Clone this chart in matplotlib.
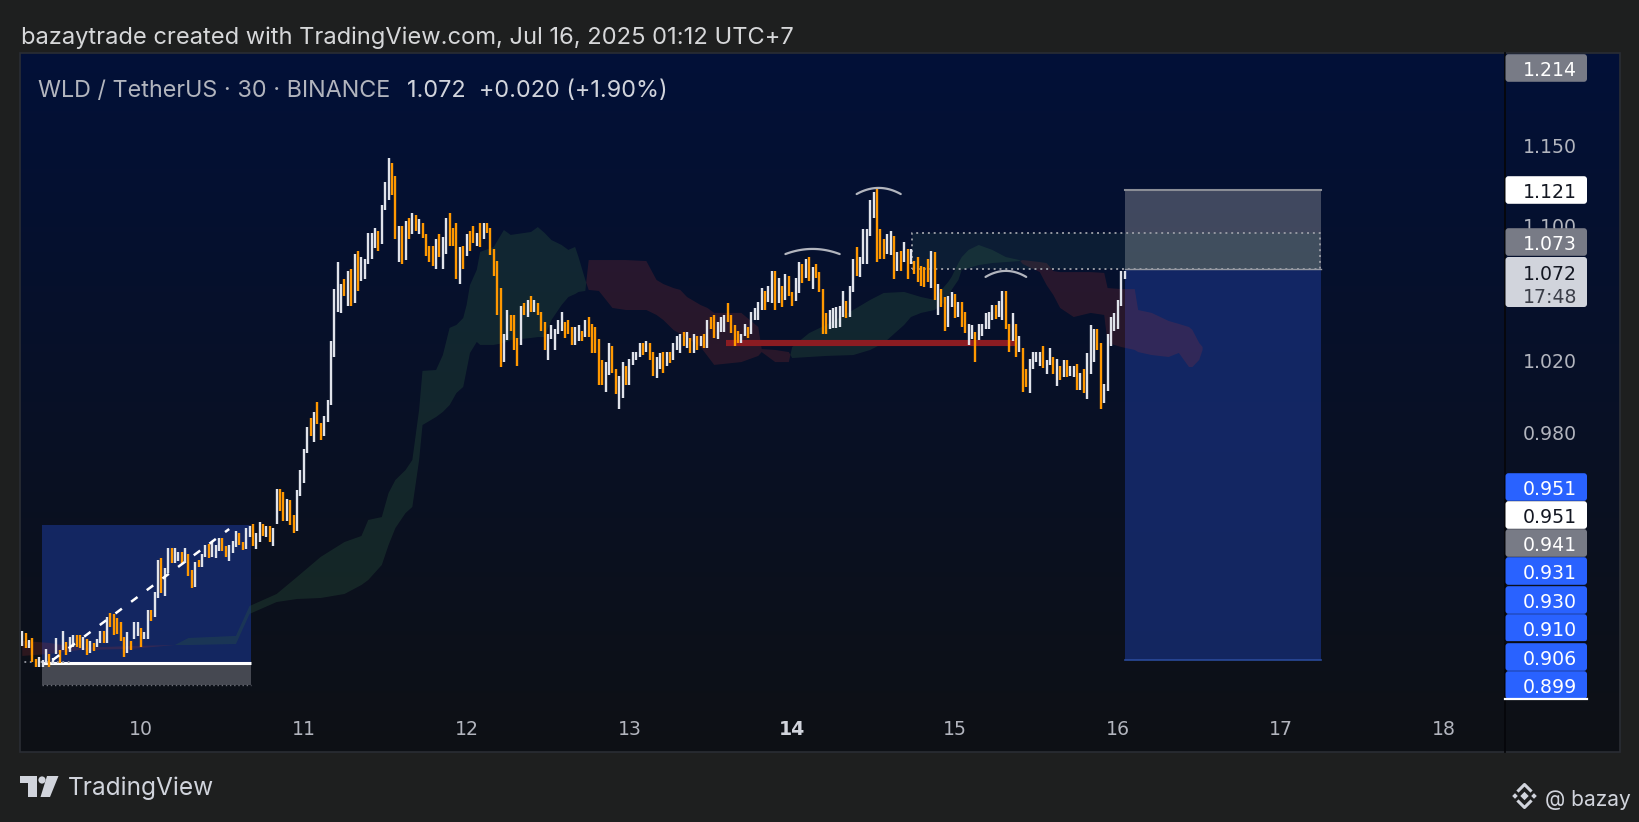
import numpy as np
import pandas as pd
import matplotlib
matplotlib.use("Agg")
import matplotlib.pyplot as plt
import matplotlib.dates as mdates
from matplotlib.patches import Rectangle, FancyBboxPatch, Polygon

# ---------------- data ----------------
header_text = "bazaytrade created with TradingView.com, Jul 16, 2025 01:12 UTC+7"
symbol_text = "WLD / TetherUS · 30 · BINANCE"
quote_text = "1.072  +0.020 (+1.90%)"
last_bar_time = "2025-07-16 01:00"

bar_open = [
    .870, .876, .869, .874, .8635, .860, .860, .8615, .866, .861,
    .866, .868, .868, .872, .867, .8696, .8753, .8753, .8680, .8735,
    .8664, .8712, .8696, .8712, .8772, .8714, .8859, .8854, .8836, .8816,
    .8741, .8664, .8725, .8733, .8749, .8789, .8733, .8733, .8876, .8843,
    .8934, .9138, .8945, .9059, .9186, .9112, .9120, .9169, .9110, .9155,
    .9076, .8990, .9127, .9093, .9143, .9208, .9140, .9138, .9170, .9237,
    .9200, .9120, .9163, .9193, .9263, .9220, .9184, .9245, .9311, .9184,
    .9220, .9311, .9245, .9300, .9200, .9309,
    .9493, .9479, .9325, .9435, .9356, .9275, .9456, .9527, .9687, .9878,
    .9747, .9967, .9851, .9778, .9856, .9949, 1.0220, 1.0480, 1.0474, 1.0673,
    1.0515, 1.0732, 1.0533, 1.0840, 1.0662, 1.0672, 1.0762, 1.0792, 1.0861, 1.0964,
    1.0883, 1.1090, 1.1153, 1.1388, 1.1305, 1.0777, 1.0995, 1.0787, 1.1039, 1.0944,
    1.1060, 1.0944, 1.1009, 1.0944, 1.0871, 1.0871, 1.0732, 1.0944, 1.0732, 1.0822,
    1.1074, 1.0982, 1.1013, 1.0643, 1.0871, 1.0812, 1.0962, 1.0993, 1.0873, 1.1013,
    1.0913, 1.1013, 1.0978, 1.0852, 1.0780, 1.0621, 1.0191, 1.0315, 1.0460, 1.0460,
    1.0325, 1.0287, 1.0533, 1.0451, 1.0572, 1.0480, 1.0533,
    1.0476, 1.0422, 1.0202, 1.0320, 1.0259, 1.0351, 1.0368, 1.0422, 1.0432, 1.0393,
    1.0287, 1.0313, 1.0368, 1.0336, 1.0451, 1.0409, 1.0393, 1.0322, 1.0202, 1.0022,
    1.0117, 1.0283, 1.0150, 0.9927, 0.9986, 1.0170, 1.0061, 1.0173, 1.0202, 1.0221,
    1.0297, 1.0249, 1.0297, 1.0249, 1.0102, 1.0150, 1.0245, 1.0170, 1.0245, 1.0202,
    1.0259, 1.0240, 1.0365, 1.0268, 1.0330, 1.0243, 1.0341, 1.0283, 1.0351, 1.0272,
    1.0451, 1.0461, 1.0322, 1.0365, 1.0365, 1.0529, 1.0461, 1.0403, 1.0368, 1.0301,
    1.0339, 1.0393, 1.0351, 1.0432, 1.0432, 1.0490, 1.0601, 1.0535, 1.0529, 1.0721,
    1.0529,
    1.0632, 1.0550, 1.0691, 1.0593, 1.0540, 1.0589, 1.0763, 1.0678, 1.0803, 1.0614,
    1.0763, 1.0717, 1.0614, 1.0475, 1.0378, 1.0384, 1.0384, 1.0393, 1.0451, 1.0544,
    1.0451, 1.0593, 1.0863, 1.0682, 1.0761, 1.0763, 1.0934, 1.1040, 1.1221, 1.0975,
    1.0914, 1.0821, 1.0817, 1.0934, 1.0721, 1.0841, 1.0777, 1.0853, 1.0763, 1.0783,
    1.0807, 1.0751, 1.0747, 1.0793, 1.0618, 1.0833, 1.0461, 1.0614, 1.0569, 1.0393,
    1.0505, 1.0585, 1.0451, 1.0534, 1.0481, 1.0288, 1.0323, 1.0365, 1.0317, 1.0342,
    1.0382, 1.0382, 1.0432, 1.0520, 1.0451, 1.0432, 1.0603, 1.0409, 1.0313, 1.0409,
    1.0246, 1.0269, 1.0152, 1.0015, 1.0152, 1.0189, 1.0165, 1.0283, 1.0121, 1.0174,
    1.0217, 1.0056, 1.0168, 1.0105, 1.0202, 1.0112, 1.0105, 1.0180, 1.0030, 1.0152,
    0.9981, 1.0124, 1.0189, 1.0378, 1.0301, 0.9963, 1.0028, 1.0282, 1.0368, 1.0380,
    1.0514, 1.0672,
]
bar_close = [
    .877, .869, .873, .862, .860, .8645, .863, .8685, .860, .864,
    .874, .8615, .877, .8655, .8745, .8753, .8696, .8688, .8745, .8656,
    .8725, .8677, .8733, .8772, .8714, .8843, .8793, .8755, .8756, .8725,
    .8648, .8766, .8680, .8815, .8815, .8696, .8769, .8876, .8820, .8963,
    .9127, .8962, .9084, .9186, .9110, .9186, .9169, .9112, .9186, .9043,
    .8987, .9116, .9093, .9155, .9203, .9138, .9220, .9205, .9237, .9172,
    .9143, .9205, .9225, .9276, .9203, .9177, .9290, .9300, .9198, .9263,
    .9322, .9251, .9300, .9218, .9290, .9493,
    .9377, .9325, .9444, .9305, .9265, .9488, .9595, .9707, .9829, .9778,
    .9911, .9847, .9756, .9887, .9976, 1.0311, 1.0613, 1.0776, 1.0642, 1.0574,
    1.0720, 1.0515, 1.0822, 1.0603, 1.0806, 1.0792, 1.0952, 1.0952, 1.0978, 1.0840,
    1.1121, 1.1267, 1.1419, 1.1184, 1.0913, 1.0995, 1.0762, 1.1025, 1.0913, 1.1074,
    1.0964, 1.1035, 1.0921, 1.0812, 1.0777, 1.0752, 1.0913, 1.0806, 1.0923, 1.1039,
    1.0873, 1.0873, 1.0672, 1.0867, 1.0732, 1.0944, 1.0842, 1.0891, 1.0952, 1.0867,
    1.1013, 1.0952, 1.0816, 1.0692, 1.0460, 1.0163, 1.0350, 1.0490, 1.0369, 1.0258,
    1.0168, 1.0513, 1.0460, 1.0548, 1.0480, 1.0548, 1.0460,
    1.0370, 1.0259, 1.0351, 1.0403, 1.0380, 1.0432, 1.0476, 1.0330, 1.0351, 1.0287,
    1.0393, 1.0403, 1.0313, 1.0432, 1.0336, 1.0244, 1.0244, 1.0061, 1.0061, 1.0192,
    1.0297, 1.0130, 1.0010, 1.0113, 1.0192, 1.0061, 1.0207, 1.0249, 1.0249, 1.0297,
    1.0230, 1.0311, 1.0202, 1.0111, 1.0221, 1.0243, 1.0130, 1.0245, 1.0183, 1.0297,
    1.0339, 1.0351, 1.0283, 1.0361, 1.0243, 1.0351, 1.0259, 1.0341, 1.0272, 1.0432,
    1.0380, 1.0330, 1.0422, 1.0451, 1.0461, 1.0422, 1.0355, 1.0283, 1.0297, 1.0351,
    1.0409, 1.0330, 1.0480, 1.0500, 1.0539, 1.0617, 1.0490, 1.0631, 1.0721, 1.0490,
    1.0677,
    1.0507, 1.0703, 1.0573, 1.0514, 1.0678, 1.0773, 1.0648, 1.0793, 1.0658, 1.0743,
    1.0678, 1.0595, 1.0351, 1.0351, 1.0491, 1.0501, 1.0507, 1.0516, 1.0603, 1.0442,
    1.0632, 1.0793, 1.0691, 1.0803, 1.0975, 1.0975, 1.1153, 1.1201, 1.0777, 1.0791,
    1.0791, 1.0942, 1.0963, 1.0674, 1.0837, 1.0723, 1.0897, 1.0674, 1.0853, 1.0703,
    1.0652, 1.0632, 1.0624, 1.0654, 1.0843, 1.0550, 1.0644, 1.0507, 1.0370, 1.0573,
    1.0593, 1.0442, 1.0534, 1.0393, 1.0355, 1.0407, 1.0403, 1.0193, 1.0409, 1.0409,
    1.0471, 1.0477, 1.0520, 1.0436, 1.0544, 1.0603, 1.0380, 1.0250, 1.0471, 1.0221,
    1.0340, 1.0024, 1.0052, 1.0208, 1.0246, 1.0246, 1.0246, 1.0155, 1.0202, 1.0269,
    1.0121, 1.0208, 1.0090, 1.0202, 1.0105, 1.0168, 1.0168, 1.0030, 1.0131, 1.0015,
    1.0244, 1.0403, 1.0378, 1.0259, 0.9927, 1.0067, 1.0351, 1.0451, 1.0471, 1.0550,
    1.0723, 1.0720,
]

# Ichimoku cloud (bar offsets from the first bar, leading spans A and B)
cloud_bar = [0, 8, 17, 32, 45, 49, 63, 67, 75, 81, 88, 95, 100, 102, 106, 108, 110, 113, 115, 117,
             118, 122, 124, 126, 128, 130, 131, 132, 134, 135, 139, 142, 144, 150, 152, 154, 156, 159, 161, 163,
             164, 166, 167, 170, 174, 178, 184, 187, 189, 192, 194, 196, 200, 202, 204, 212, 217, 218, 222, 226,
             227, 232, 237, 245, 250, 254, 260, 262, 265, 269, 271, 273, 274, 276, 277, 279, 282, 286, 290, 294,
             295, 300, 302, 304, 306, 310, 315, 319, 320, 324, 328, 329, 333, 338, 341, 344, 345, 347, 348]
lead_a = [.8651, .8661, .8680, .8685, .8704, .8738, .8748, .8895, .8955, .9040,
          .9142, .9218, .9249, .9332, .9347, .9473, .9542, .9595, .9649, .9922,
          1.0140, 1.0145, 1.0230, 1.0386, 1.0403, 1.0443, 1.0519, 1.0637, 1.0727, 1.0835,
          1.0865, 1.0968, 1.0938, 1.0956, 1.0986, 1.0950, 1.0907, 1.0877, 1.0847, 1.0865,
          1.0804, 1.0667, 1.0608, 1.0602, 1.0502, 1.0490, 1.0490, 1.0461, 1.0432, 1.0374,
          1.0351, 1.0328, 1.0276, 1.0225, 1.0174, 1.0190, 1.0225, 1.0247, 1.0190, 1.0190,
          1.0276, 1.0356, 1.0403, 1.0490, 1.0549, 1.0590, 1.0596, 1.0584, 1.0566, 1.0549,
          1.0608, 1.0655, 1.0685, 1.0768, 1.0804, 1.0847, 1.0877, 1.0847, 1.0804, 1.0786,
          1.0762, 1.0714, 1.0637, 1.0578, 1.0502, 1.0449, 1.0473, 1.0461, 1.0299, 1.0276,
          1.0259, 1.0247, 1.0230, 1.0219, 1.0242, 1.0162, 1.0162, 1.0202, 1.0259]
lead_b = [.8724, .8714, .8690, .8699, .8704, .8704, .8709, .8856, .8915, .8930,
          .8935, .8955, .9000, .9025, .9101, .9203, .9290, .9368, .9400, .9649,
          .9839, .9883, .9911, .9949, 1.0016, 1.0050, 1.0145, 1.0242, 1.0305, 1.0288,
          1.0288, 1.0299, 1.0316, 1.0328, 1.0333, 1.0333, 1.0431, 1.0519, 1.0566, 1.0584,
          1.0596, 1.0602, 1.0786, 1.0786, 1.0786, 1.0786, 1.0780, 1.0667, 1.0643, 1.0619,
          1.0608, 1.0566, 1.0519, 1.0502, 1.0473, 1.0473, 1.0391, 1.0264, 1.0259, 1.0247,
          1.0213, 1.0219, 1.0225, 1.0230, 1.0259, 1.0299, 1.0403, 1.0449, 1.0473, 1.0490,
          1.0519, 1.0560, 1.0608, 1.0667, 1.0727, 1.0739, 1.0756, 1.0768, 1.0774, 1.0780,
          1.0786, 1.0774, 1.0768, 1.0720, 1.0714, 1.0714, 1.0714, 1.0709, 1.0619, 1.0613,
          1.0613, 1.0490, 1.0473, 1.0426, 1.0409, 1.0391, 1.0374, 1.0299, 1.0276]

# drawings (bar offsets, prices)
neckline_price = 1.030
neckline_span = [207.5, 293.4]
arc_bars = [[225, 233, 241], [246, 252, 259], [284, 290, 296]]
arc_prices = [[1.0822, 1.0853, 1.0822], [1.1190, 1.1228, 1.1190], [1.0685, 1.0721, 1.0685]]
zone_span = [262.4, 382.5]
zone_prices = [1.0730, 1.0952]
short_span = [325.0, 382.8]
short_stop, short_entry, short_target = 1.1215, 1.0734, 0.8632
long_span = [5.8, 67.5]
long_target, long_entry, long_stop = 0.9306, 0.8617, 0.8513
trend_bars = [9, 61]
trend_prices = [0.8632, 0.9285]
dotted_stub_bars = [-1, 15]
dotted_stub_price = 0.8622

price_ticks = [0.980, 1.020, 1.100, 1.150]
day_ticks = pd.date_range("2025-07-10", "2025-07-18", freq="D")
bold_day = 14
axis_label_text = ["1.214", "1.121", "1.073", "0.951", "0.951", "0.941", "0.931", "0.930", "0.910", "0.906", "0.899"]
axis_label_kind = ["gray", "white", "gray", "blue", "white", "gray", "blue", "blue", "blue", "blue", "blue"]
last_price_text = "1.072"
countdown_text = "17:48"

# ---------------- layout / style ----------------
W, H = 1640, 822
FONT = ["Inter", "DejaVu Sans"]
NUMFONT = ["DejaVu Sans"]
NUMSIZE = 13.6
TY = 2.5  # vertical text nudge (px)
label_centers = [68, 190, 242, 487, 515, 543, 571, 600, 628, 657, 685]
kind_face = {"gray": "#787b86", "white": "#ffffff", "blue": "#2962ff"}
kind_text = {"gray": "#ffffff", "white": "#131722", "blue": "#ffffff"}

fig = plt.figure(figsize=(W / 100, H / 100), dpi=100)
fig.patch.set_facecolor("#1e1f1f")
renderer = fig.canvas.get_renderer()


def rect_px(x0, y0, x1, y1):
    return [x0 / W, 1 - y1 / H, (x1 - x0) / W, (y1 - y0) / H]


def fit_size(s, width_px, family=FONT, weight="normal", base=20.0):
    t = fig.text(0, 0, s, fontsize=base, family=family, weight=weight)
    w = t.get_window_extent(renderer).width
    t.remove()
    return base * width_px / w


# background panel with vertical gradient
bg = fig.add_axes(rect_px(20, 53, 1620, 752), zorder=0)
g = np.linspace(0, 1, 400)[:, None, None]
top_c = np.array([2, 17, 56]) / 255.0
bot_c = np.array([14, 16, 21]) / 255.0
img = top_c[None, None, :] * (1 - g) + bot_c[None, None, :] * g
bg.imshow(img, aspect="auto", extent=[0, 1, 0, 1], origin="upper")
bg.set_xlim(0, 1)
bg.set_ylim(0, 1)
bg.set_axis_off()
bg.add_patch(Rectangle((0, 0), 1, 1, transform=bg.transAxes, fill=False,
                       edgecolor="#2a2d34", lw=1.2, clip_on=False))

# main price axes
ax = fig.add_axes(rect_px(21, 53, 1505, 707), zorder=1)
ax.patch.set_alpha(0)
ax.set_yscale("log")
ax.set_ylim(0.84085, 1.21048)
x_left = mdates.date2num(pd.Timestamp("2025-07-09") + pd.Timedelta(days=0.2629))
x_right = mdates.date2num(pd.Timestamp("2025-07-09") + pd.Timedelta(days=9.3784))
ax.set_xlim(x_left, x_right)
ax.set_axis_off()

times = pd.date_range(end=pd.Timestamp(last_bar_time), periods=len(bar_close), freq="30min")
xs = mdates.date2num(times)
x0 = xs[0]


def bar_x(b):
    return x0 + np.asarray(b, dtype=float) / 48.0


# position boxes
blue_face = (22 / 255, 44 / 255, 115 / 255)
ax.add_patch(Rectangle((bar_x(short_span[0]), short_target), bar_x(short_span[1]) - bar_x(short_span[0]),
                       short_entry - short_target, facecolor=blue_face, alpha=0.8, lw=0, zorder=2))
ax.add_patch(Rectangle((bar_x(short_span[0]), short_entry), bar_x(short_span[1]) - bar_x(short_span[0]),
                       short_stop - short_entry, facecolor="#9598a1", alpha=0.42, lw=0, zorder=2))
ax.plot(bar_x(short_span), [short_stop, short_stop], color="#8a8d96", lw=1.5, zorder=2.5)
ax.plot(bar_x(short_span), [short_target, short_target], color="#2a4a9a", lw=1.2, zorder=2.5)
ax.plot(bar_x(short_span), [short_entry, short_entry], color="#9598a1", lw=1.0, zorder=2.5)

ax.add_patch(Rectangle((bar_x(long_span[0]), long_entry), bar_x(long_span[1]) - bar_x(long_span[0]),
                       long_target - long_entry, facecolor=blue_face, alpha=0.8, lw=0, zorder=2))
ax.add_patch(Rectangle((bar_x(long_span[0]), long_stop), bar_x(long_span[1]) - bar_x(long_span[0]),
                       long_entry - long_stop, facecolor="#9598a1", alpha=0.42, lw=0, zorder=2))
ax.plot(bar_x(long_span), [long_stop, long_stop], color="#6a6d76", lw=1.0, ls=(0, (1, 2)), zorder=2.5)

# cloud
xc = bar_x(cloud_bar)
la = np.array(lead_a)
lb = np.array(lead_b)
ax.fill_between(xc, la, lb, where=la >= lb, interpolate=True, color=(45 / 255, 90 / 255, 62 / 255),
                alpha=0.30, lw=0, zorder=3)
ax.fill_between(xc, la, lb, where=la < lb, interpolate=True, color=(160 / 255, 50 / 255, 50 / 255),
                alpha=0.22, lw=0, zorder=3)

# dotted zone
zx0, zx1 = bar_x(zone_span)
ax.add_patch(Rectangle((zx0, zone_prices[0]), zx1 - zx0, zone_prices[1] - zone_prices[0],
                       facecolor=(60 / 255, 120 / 255, 100 / 255), alpha=0.13, lw=0, zorder=4))
ax.plot([zx0, zx1, zx1, zx0, zx0],
        [zone_prices[0], zone_prices[0], zone_prices[1], zone_prices[1], zone_prices[0]],
        color="#9598a1", lw=1.4, ls=(0, (1, 2)), zorder=4.5)

# neckline
ax.plot(bar_x(neckline_span), [neckline_price, neckline_price], color="#8b1c22", lw=4.4,
        solid_capstyle="butt", zorder=5)

# white entry line of the left box
ax.plot(bar_x(long_span), [long_entry, long_entry], color="#ffffff", lw=2.2, solid_capstyle="butt", zorder=5)
ax.plot(bar_x(dotted_stub_bars), [dotted_stub_price, dotted_stub_price], color="#9598a1", lw=1.3,
        ls=(0, (1, 2)), zorder=5)

# candles
o = np.array(bar_open)
c = np.array(bar_close)
up = c >= o
cols = np.where(up, "#e0e3eb", "#ff9800")
ax.vlines(xs, np.minimum(o, c), np.maximum(o, c), colors=cols, linewidth=1.7, zorder=6)

# dashed trend line
ax.plot(bar_x(trend_bars), trend_prices, color="#ffffff", lw=1.8, dashes=(3.2, 4.6), zorder=7)

# arcs
for bb, pp in zip(arc_bars, arc_prices):
    bx = bar_x(bb)
    coef = np.polyfit(bx - bx[0], np.log(pp), 2)
    xx = np.linspace(bx[0], bx[-1], 60)
    ax.plot(xx, np.exp(np.polyval(coef, xx - bx[0])), color="#b2b5be", lw=1.6, zorder=7,
            solid_capstyle="round")

# ---------------- overlay (axis labels, texts) ----------------
ov = fig.add_axes([0, 0, 1, 1], zorder=3)
ov.set_xlim(0, W)
ov.set_ylim(H, 0)
ov.set_axis_off()
ov.patch.set_alpha(0)


def to_px(xd, yd):
    dx, dy = ax.transData.transform((xd, yd))
    return dx, H - dy


# separator of price scale
ov.plot([1505.5, 1505.5], [53, 752], color="#06070a", lw=1.3, zorder=1)

# price tick labels
for p in price_ticks:
    _, py = to_px(x0, p)
    ov.text(1550, py + TY, f"{p:.3f}", fontsize=NUMSIZE, family=NUMFONT, color="#b2b5be",
            ha="center", va="center", zorder=2)

# time labels
for d in day_ticks:
    px, _ = to_px(mdates.date2num(d), 1.0)
    bold = d.day == bold_day
    ov.text(px, 727 + TY, str(d.day), fontsize=NUMSIZE, family=NUMFONT,
            color="#d1d4dc" if bold else "#b2b5be",
            weight="bold" if bold else "normal", ha="center", va="center", zorder=2)

# price label boxes
for txt, kind, yc in zip(axis_label_text, axis_label_kind, label_centers):
    ov.add_patch(FancyBboxPatch((1505.5, yc - 13.8), 81.5, 27.6,
                                boxstyle="round,pad=0,rounding_size=3",
                                facecolor=kind_face[kind], edgecolor="none", zorder=3))
    ov.text(1550, yc + TY, txt, fontsize=NUMSIZE, family=NUMFONT, color=kind_text[kind],
            ha="center", va="center", zorder=4)
ov.plot([1505.5, 1587], [642.3, 642.3], color="#0a0c14", lw=1.2, zorder=4)
ov.plot([1505.5, 1587], [699.3, 699.3], color="#ffffff", lw=1.6, zorder=4)

ov.add_patch(FancyBboxPatch((1505.5, 257), 81.5, 50, boxstyle="round,pad=0,rounding_size=3",
                            facecolor="#d1d4dc", edgecolor="none", zorder=3))
ov.text(1550, 272 + TY, last_price_text, fontsize=NUMSIZE, family=NUMFONT, color="#131722",
        ha="center", va="center", zorder=4)
ov.text(1550, 295 + TY, countdown_text, fontsize=NUMSIZE, family=NUMFONT, color="#3b3e48",
        ha="center", va="center", zorder=4)

# header and legend
ov.text(21, 35 + TY, header_text, fontsize=fit_size(header_text, 773), family=FONT, color="#d6d7d9",
        ha="left", va="center")
ov.text(38, 89 + TY, symbol_text, fontsize=fit_size(symbol_text, 353), family=FONT, color="#b2b5be",
        ha="left", va="center")
ov.text(407, 89 + TY, quote_text, fontsize=fit_size(quote_text, 260), family=FONT, color="#d1d4dc",
        ha="left", va="center")

# TradingView watermark
logo_c = "#d1d4dc"
ov.add_patch(Polygon([(20, 776), (37, 776), (37, 797), (28, 797), (28, 783), (20, 783)],
                     closed=True, facecolor=logo_c, edgecolor="none"))
ov.add_patch(plt.Circle((42, 780), 3.6, facecolor=logo_c, edgecolor="none"))
ov.add_patch(Polygon([(47, 776), (58.5, 776), (50, 797), (40.5, 797)], closed=True,
                     facecolor=logo_c, edgecolor="none"))
ov.text(68, 786 + TY, "TradingView", fontsize=fit_size("TradingView", 146), family=FONT, color=logo_c,
        ha="left", va="center")

# binance badge and handle
cx, cy = 1524.5, 796.0


def diamond(x, y, r):
    return Polygon([(x, y - r), (x + r, y), (x, y + r), (x - r, y)], closed=True,
                   facecolor=logo_c, edgecolor="none")


ov.add_patch(diamond(cx, cy, 4.2))
ov.add_patch(diamond(cx - 9.5, cy, 2.8))
ov.add_patch(diamond(cx + 9.5, cy, 2.8))
ov.plot([cx - 6, cx, cx + 6], [cy - 5.5, cy - 11.5, cy - 5.5], color=logo_c, lw=2.2)
ov.plot([cx - 6, cx, cx + 6], [cy + 5.5, cy + 11.5, cy + 5.5], color=logo_c, lw=2.2)
ov.text(1545, 797 + TY, "@ bazay", fontsize=fit_size("@ bazay", 86), family=FONT, color=logo_c,
        ha="left", va="center")

fig.savefig("out.png", dpi=100, facecolor=fig.get_facecolor())
